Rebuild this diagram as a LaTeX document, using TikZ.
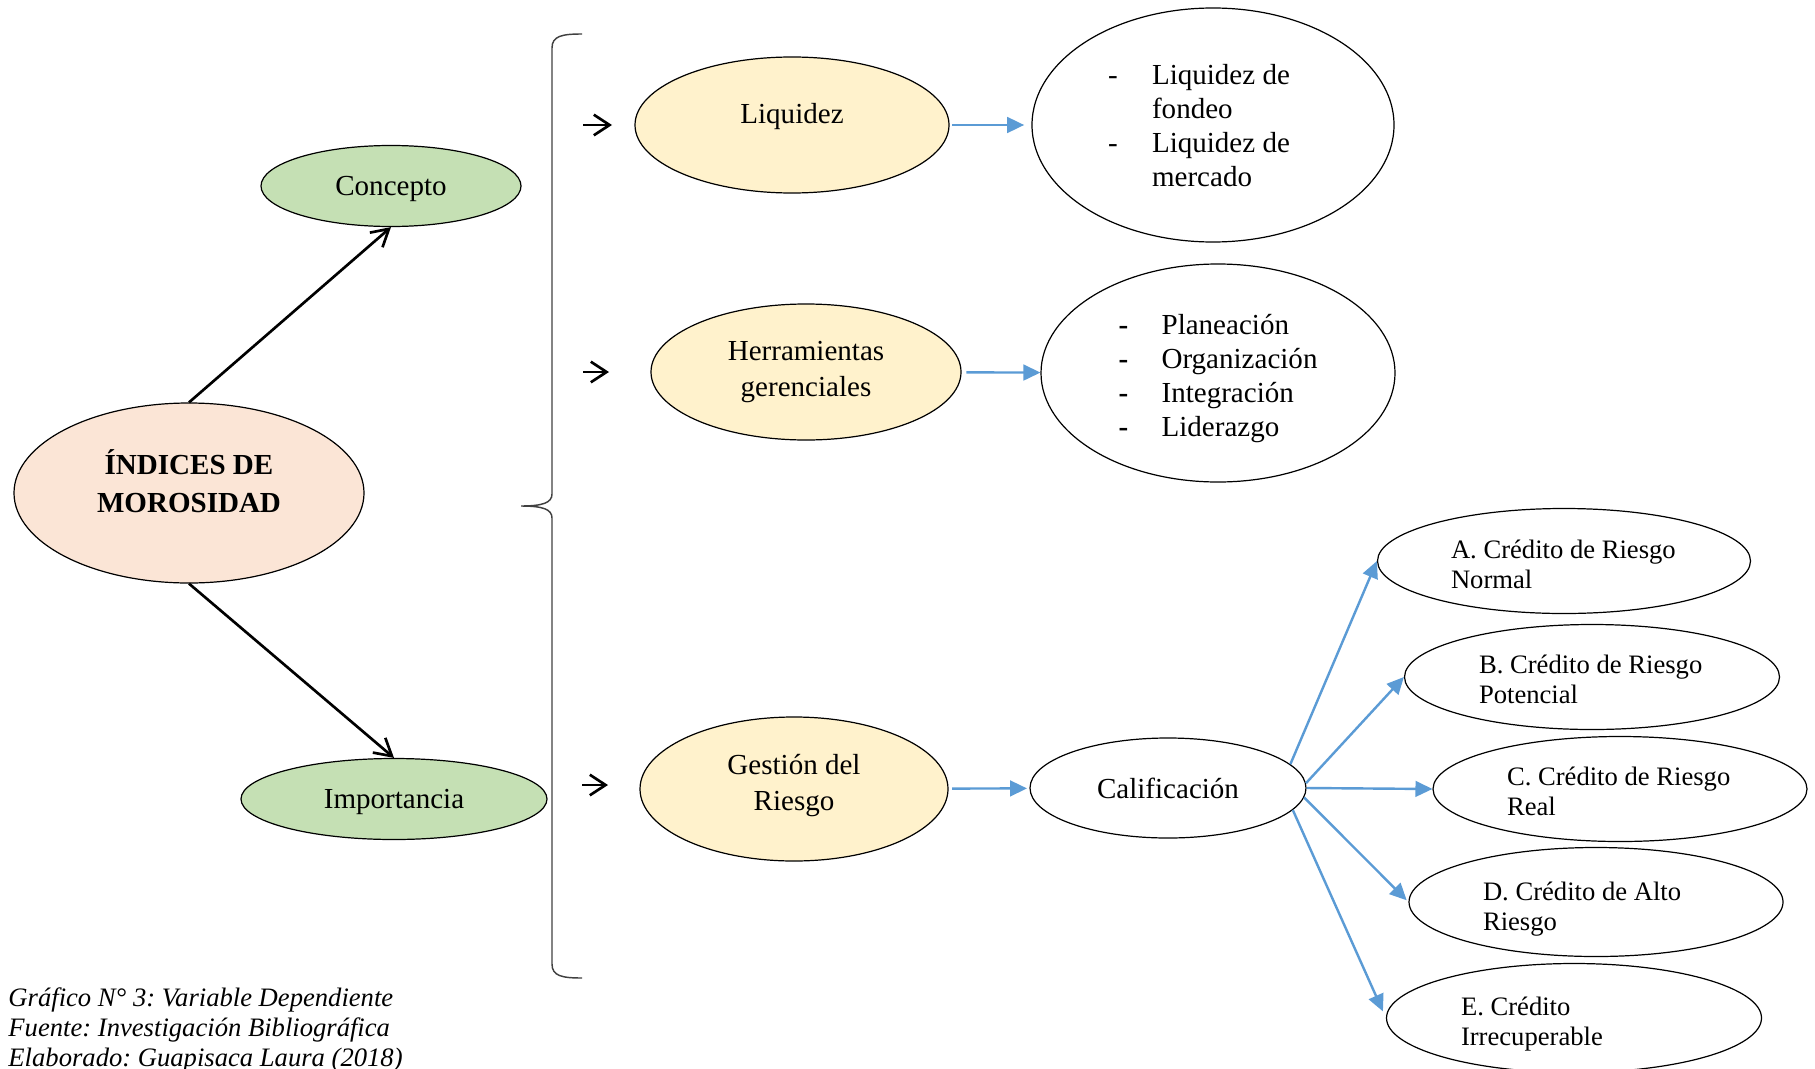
\documentclass[tikz,border=0pt]{standalone}
\usepackage{fontspec}
\setmainfont{Liberation Serif}
\usetikzlibrary{shapes.geometric,arrows.meta}
\frenchspacing

% one drawing unit, in points
\newcommand\pxu{0.4132pt}
% invisible strut that deepens the last line (lifts the text in its oval)
\newcommand\dropstrut[1]{\rule[-#1]{0pt}{#1}}
% invisible strut that heightens the first line (lowers the text in its oval)
\newcommand\topstrut[1]{\rule{0pt}{#1}}

\definecolor{leafgreen}{HTML}{C5E0B4}
\definecolor{softyellow}{HTML}{FFF2CC}
\definecolor{peach}{HTML}{FBE5D6}
\definecolor{linkblue}{HTML}{5B9BD5}
\definecolor{bracegray}{HTML}{404040}

\begin{document}
\begin{tikzpicture}[x=\pxu, y=-\pxu,
  every node/.style={font=\fontsize{12}{14}\selectfont},
  oval/.style 2 args={ellipse, draw=black, line width=0.5pt, inner sep=0pt,
    minimum width=#1*\pxu, minimum height=#2*\pxu},
  credit/.style 2 args={oval={#1}{#2}, align=left,
    font=\fontsize{11}{12.4}\selectfont},
  blk/.style={draw=black, line width=1.1pt,
    -{Straight Barb[length=7pt,width=8pt]}},
  smallblk/.style={draw=black, line width=1.1pt,
    -{Straight Barb[length=6.5pt,width=8.5pt]}},
  link/.style={draw=linkblue, line width=1pt,
    -{Triangle[length=7pt,width=6.5pt]}},
  caption/.style={anchor=base west, inner sep=0pt,
    font=\itshape\fontsize{11}{12.4}\selectfont}
]
\useasboundingbox (0,0) rectangle (1815,1068);

% central concept and its two facets
\node[oval={350}{180}, fill=peach, align=center,
      font=\bfseries\fontsize{12}{15.7}\selectfont] (main) at (189,493)
      {ÍNDICES DE\\MOROSIDAD\dropstrut{10.2pt}};
\node[oval={260}{81}, fill=leafgreen] (concepto) at (391,186)
      {\topstrut{10.2pt}Concepto};
\node[oval={306}{81}, fill=leafgreen] (importancia) at (394,799)
      {\topstrut{10.2pt}Importancia};

\draw[blk] (main.north) -- (concepto.south);
\draw[blk] (main.south) -- (importancia.north);

% curly brace grouping the three dimensions
\draw[bracegray, line width=0.6pt]
  (582,34) .. controls (562,34) and (552,36) .. (552,48)
  -- (552,494) .. controls (552,503) and (542,506) .. (521,506)
  .. controls (542,506) and (552,509) .. (552,518)
  -- (552,964) .. controls (552,976) and (562,978) .. (582,978);

% short pointers beside each dimension
\coordinate (p1s) at (583,125); \coordinate (p1e) at (612,125);
\coordinate (p2s) at (583,372); \coordinate (p2e) at (609,372);
\coordinate (p3s) at (582,785); \coordinate (p3e) at (608,785);
\draw[smallblk] (p1s) -- (p1e);
\draw[smallblk] (p2s) -- (p2e);
\draw[smallblk] (p3s) -- (p3e);

% dimensions
\node[oval={314}{136}, fill=softyellow] (liquidez) at (792,125)
      {Liquidez\dropstrut{9.6pt}};
\node[oval={310}{136}, fill=softyellow, align=center,
      font=\fontsize{12}{15}\selectfont] (herr) at (806,372)
      {Herramientas\\gerenciales};
\node[oval={308}{144}, fill=softyellow, align=center,
      font=\fontsize{12}{15}\selectfont] (gestion) at (794,789)
      {Gestión del\\Riesgo\dropstrut{5.2pt}};

% details of each dimension
\node[oval={362}{234}] (liqlist) at (1213,125)
  {\topstrut{54.7pt}\begin{tabular}[b]{@{}p{18.2pt}@{}l@{\hspace{11.6pt}}}
   - & Liquidez de\\
     & fondeo\\
   - & Liquidez de\\
     & mercado
   \end{tabular}};
\node[oval={354}{218}] (herrlist) at (1218,373)
  {\topstrut{56.6pt}\begin{tabular}[b]{@{}p{17.8pt}@{}l@{}}
   \textbf{-} & Planeación\\
   \textbf{-} & Organización\\
   \textbf{-} & Integración\\
   \textbf{-} & Liderazgo
   \end{tabular}};
\node[oval={276}{100}] (calif) at (1168,788) {Calificación};

\draw[link, shorten <=1pt, shorten >=3pt] (liquidez) -- (liqlist);
\draw[link, shorten <=2pt] (herr) -- (herrlist);
\draw[link, shorten <=1.5pt, shorten >=1pt] (gestion) -- (calif);

% risk categories
\node[credit={373}{105}] (ca) at (1564,561)
  {\makebox[93.4pt][l]{\topstrut{10.4pt}A. Crédito de Riesgo}\\Normal};
\node[credit={375}{105}] (cb) at (1592,677)
  {\makebox[93.4pt][l]{\topstrut{9.9pt}B. Crédito de Riesgo}\\Potencial};
\node[credit={374}{105}] (cc) at (1620,789)
  {\makebox[93.4pt][l]{\topstrut{9.9pt}C. Crédito de Riesgo}\\Real};
\node[credit={374}{109}] (cd) at (1596,902)
  {\makebox[93.4pt][l]{\topstrut{13.3pt}D. Crédito de Alto}\\Riesgo};
\node[credit={375}{109}] (ce) at (1574,1018)
  {\makebox[93.4pt][l]{\topstrut{12.3pt}E. Crédito}\\Irrecuperable};

\draw[link] (calif.11) -- (ca.west);
\draw[link] (calif.2) -- (cb.west);
\draw[link] (calif.east) -- (cc.west);
\draw[link, shorten >=1pt] (calif.-4) -- (cd.west);
\draw[link, shorten >=3pt] (calif.-10) -- (ce.west);

% source notes
\node[caption] (cap1) at (8,1006) {Gráfico N° 3: Variable Dependiente};
\node[caption] (cap2) at (8,1036) {Fuente: Investigación Bibliográfica};
\node[caption] (cap3) at (8,1066) {Elaborado: Guapisaca Laura (2018)};
\end{tikzpicture}
\end{document}
